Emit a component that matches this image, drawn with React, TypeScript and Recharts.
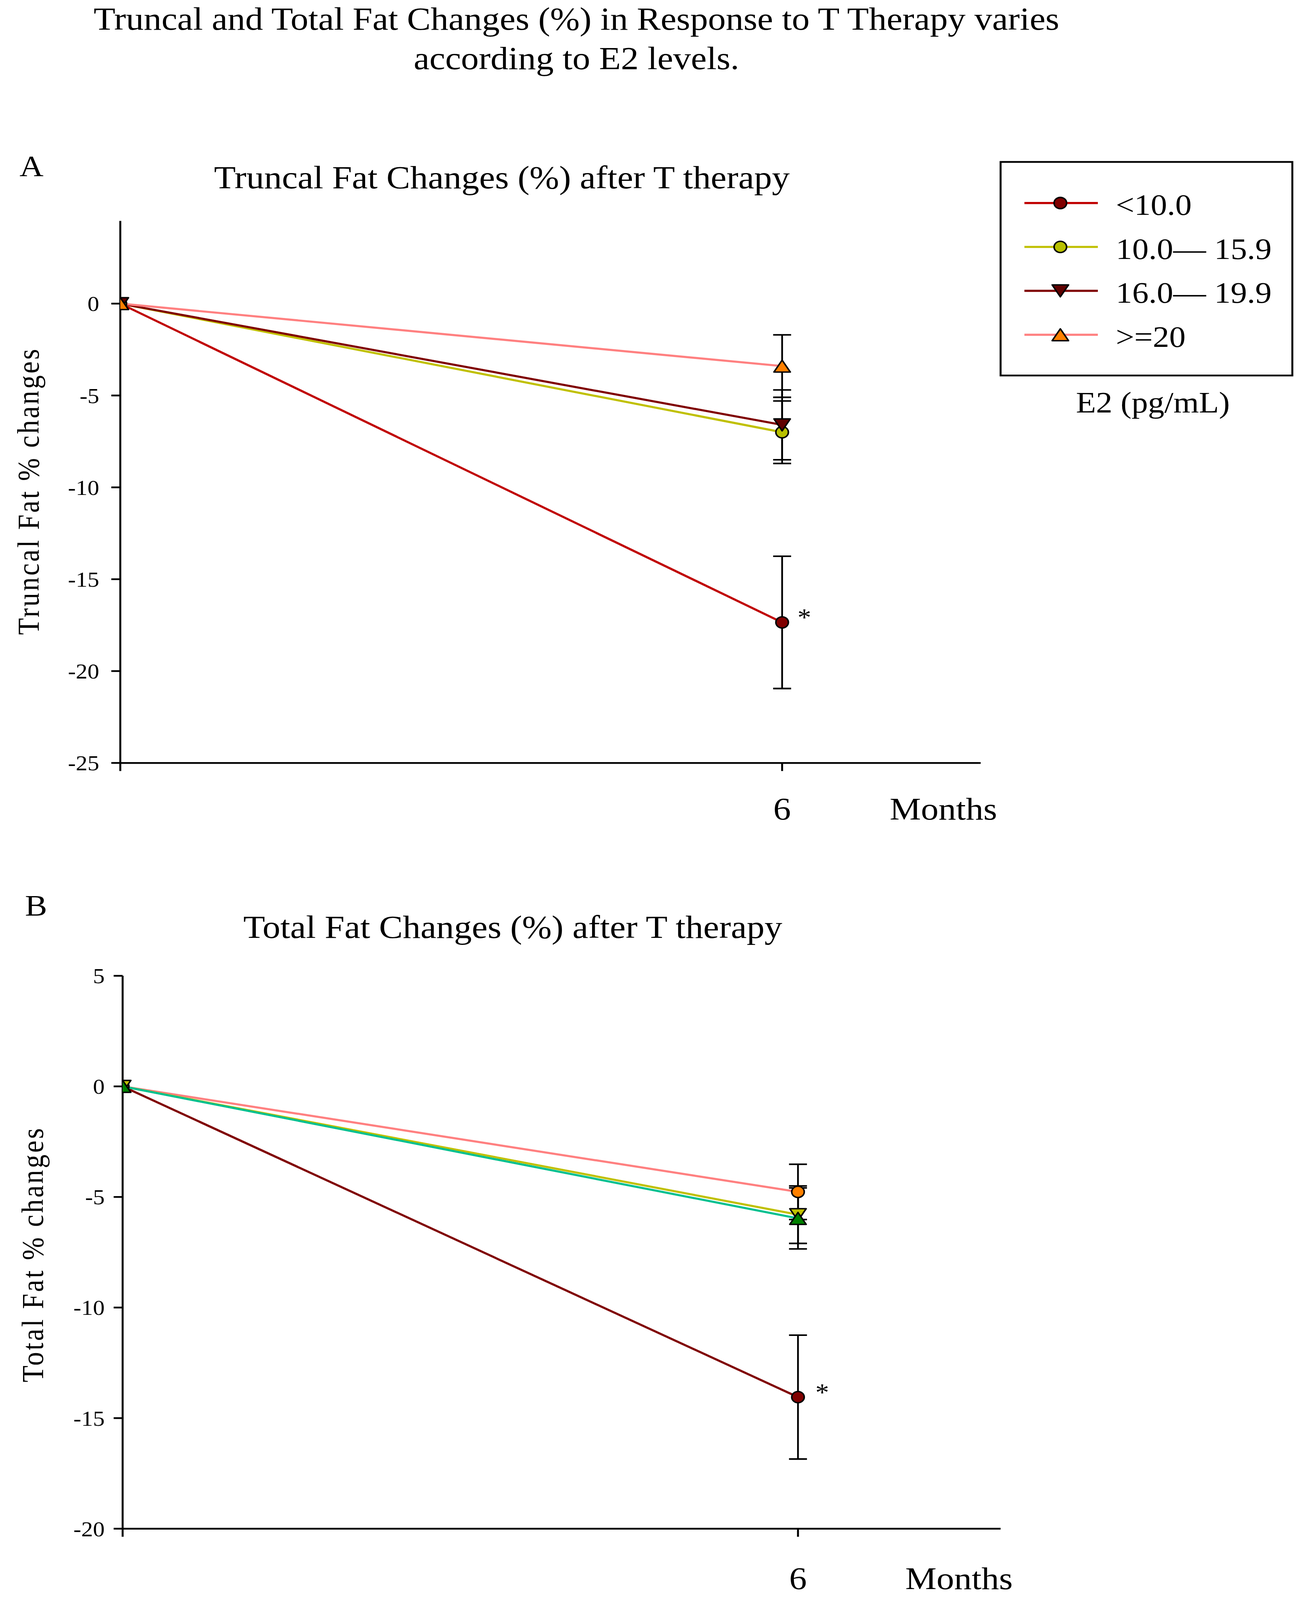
import React from "react";
import { LineChart, Line, XAxis, YAxis, ErrorBar } from "recharts";

const FONT = '"Liberation Serif", "Times New Roman", serif';

// the photographed page stops at 4096px, so the 4555px-tall figure is squeezed to fit
const FIT_Y = 4096 / 4555;

const months = [0, 6];
const groups = ["<10.0", "10.0\u2014 15.9", "16.0\u2014 19.9", ">=20"];
const xTicks = [0, 6];
const yTicksA = [-25, -20, -15, -10, -5, 0];
const yTicksB = [-20, -15, -10, -5, 0, 5];

// Panel A: truncal fat % change by E2 group
const truncalLt10 = [0, -17.35];
const truncal10to16 = [0, -7.0];
const truncal16to20 = [0, -6.6];
const truncalGe20 = [0, -3.4];
const truncalSe = [3.6, 1.7, 1.9, 1.7];

// Panel B: total fat % change by E2 group
const totalLt10 = [0, -14.05];
const total10to16 = [0, -5.8];
const total16to20 = [0, -5.97];
const totalGe20 = [0, -4.77];
const totalSe = [2.8, 1.3, 1.38, 1.25];

type Style = { line: string; fill: string; shape: "circle" | "up" | "down" };

const styleA: Style[] = [
  { line: "#C00000", fill: "#800000", shape: "circle" },
  { line: "#C0C000", fill: "#B8C000", shape: "circle" },
  { line: "#800000", fill: "#600000", shape: "down" },
  { line: "#FF8080", fill: "#FF8000", shape: "up" },
];
const styleB: Style[] = [
  { line: "#800000", fill: "#800000", shape: "circle" },
  { line: "#C0C000", fill: "#C0C000", shape: "down" },
  { line: "#00C090", fill: "#008000", shape: "up" },
  { line: "#FF8080", fill: "#FF8000", shape: "circle" },
];

function buildRows(series: number[][], se: number[]) {
  return months.map((m, i) => {
    const row: any = { month: m };
    series.forEach((vals, k) => {
      row[`v${k}`] = vals[i];
      row[`e${k}`] = m === 0 ? null : se[k];
    });
    return row;
  });
}

const rowsA = buildRows([truncalLt10, truncal10to16, truncal16to20, truncalGe20], truncalSe);
const rowsB = buildRows([totalLt10, total10to16, total16to20, totalGe20], totalSe);

function Marker({ cx, cy, s }: { cx: number; cy: number; s: Style }) {
  if (cx == null || cy == null) return null;
  if (s.shape === "circle") {
    return <circle cx={cx} cy={cy} r={16} fill={s.fill} stroke="#000" strokeWidth={4} />;
  }
  const h = 17;
  const w = 21;
  const pts =
    s.shape === "up"
      ? `${cx},${cy - h} ${cx + w},${cy + h} ${cx - w},${cy + h}`
      : `${cx},${cy + h} ${cx + w},${cy - h} ${cx - w},${cy - h}`;
  return <polygon points={pts} fill={s.fill} stroke="#000" strokeWidth={4} strokeLinejoin="round" />;
}

function star(dx: number) {
  return (p: any) => {
    if (p.index !== 1) return null;
    return (
      <text key="star" x={p.x + dx} y={p.y + 10} fontSize={70} fontFamily={FONT} textAnchor="middle" fill="#000">
        *
      </text>
    );
  };
}

type PanelProps = {
  rows: any[];
  styles: Style[];
  order: number[];
  width: number;
  height: number;
  margin: { top: number; left: number; right: number; bottom: number };
  domain: [number, number];
  yTicks: number[];
  yTickMargin: number;
  xTickMargin: number;
  starDx: number;
  children?: React.ReactNode;
};

function Panel(p: PanelProps) {
  const axisStroke = { stroke: "#000", strokeWidth: 5 };
  return (
    <LineChart width={p.width} height={p.height} data={p.rows} margin={p.margin}>
      <XAxis
        dataKey="month"
        type="number"
        domain={[0, 7.8]}
        ticks={xTicks}
        height={100}
        axisLine={axisStroke}
        tickLine={axisStroke}
        tickSize={23}
        tickMargin={p.xTickMargin}
        tickFormatter={(v: number) => (v === 0 ? "" : String(v))}
        tick={{ fontSize: 90, fill: "#000", fontFamily: FONT }}
        allowDataOverflow
      />
      <YAxis
        type="number"
        domain={p.domain}
        ticks={p.yTicks}
        width={100}
        axisLine={axisStroke}
        tickLine={axisStroke}
        tickSize={23}
        tickMargin={p.yTickMargin}
        tick={{ fontSize: 60, fill: "#000", fontFamily: FONT }}
        allowDataOverflow
      />
      {p.order.map((k) => {
        const s = p.styles[k];
        return (
          <Line
            key={k}
            dataKey={`v${k}`}
            name={groups[k]}
            stroke={s.line}
            strokeWidth={6}
            isAnimationActive={false}
            dot={(d: any) => <Marker key={`m${k}-${d.index}`} cx={d.cx} cy={d.cy} s={s} />}
            activeDot={false}
            label={k === 0 ? star(p.starDx) : false}
          >
            <ErrorBar dataKey={`e${k}`} width={23} stroke="#000" strokeWidth={4.5} direction="y" />
          </Line>
        );
      })}
      {p.children}
    </LineChart>
  );
}

function LegendBox() {
  const rowY = [578, 703, 828, 953];
  return (
    <g>
      <rect x={2562} y={461} width={747} height={608} fill="none" stroke="#000" strokeWidth={5} />
      {groups.map((g, i) => (
        <g key={g}>
          <line x1={2623} x2={2811} y1={rowY[i]} y2={rowY[i]} stroke={styleA[i].line} strokeWidth={6} />
          <Marker cx={2715} cy={rowY[i]} s={styleA[i]} />
          <text x={2857} y={rowY[i] + 34} fontSize={84} fontFamily={FONT} fill="#000">
            {g}
          </text>
        </g>
      ))}
      <text x={2952} y={1174} fontSize={84} fontFamily={FONT} fill="#000" textAnchor="middle">
        E2 (pg/mL)
      </text>
    </g>
  );
}

export default function App() {
  const topH = 2400;
  const botH = 4555 - topH;
  return (
    <div
      style={{
        position: "absolute",
        left: 0,
        top: 0,
        width: 3344,
        height: 4555,
        background: "#fff",
        transform: `scaleY(${FIT_Y})`,
        transformOrigin: "0 0",
      }}
    >
      <div style={{ position: "absolute", left: 0, top: 0 }}>
        <Panel
          rows={rowsA}
          styles={styleA}
          order={[0, 1, 2, 3]}
          width={3344}
          height={topH}
          margin={{ top: 629, left: 208, right: 833, bottom: topH - 2172 - 100 }}
          domain={[-25, 4.5]}
          yTicks={yTicksA}
          yTickMargin={31}
          xTickMargin={74}
          starDx={57}
        >
          <text x={1476} y={85} fontSize={91} fontFamily={FONT} textAnchor="middle" fill="#000">
            Truncal and Total Fat Changes (%) in Response to T Therapy varies
          </text>
          <text x={1476} y={197} fontSize={91} fontFamily={FONT} textAnchor="middle" fill="#000">
            according to E2 levels.
          </text>
          <text x={50} y={502} fontSize={85} fontFamily={FONT} fill="#000">
            A
          </text>
          <text x={1285} y={536} fontSize={91} fontFamily={FONT} textAnchor="middle" fill="#000">
            Truncal Fat Changes (%) after T therapy
          </text>
          <text
            x={99}
            y={1398}
            fontSize={78}
            letterSpacing={5}
            fontFamily={FONT}
            textAnchor="middle"
            fill="#000"
            transform="rotate(-90 99 1398)"
          >
            Truncal Fat % changes
          </text>
          <text x={2278} y={2333} fontSize={90} fontFamily={FONT} fill="#000">
            Months
          </text>
          <LegendBox />
        </Panel>
      </div>
      <div style={{ position: "absolute", left: 0, top: topH }}>
        <Panel
          rows={rowsB}
          styles={styleB}
          order={[0, 3, 1, 2]}
          width={3344}
          height={botH}
          margin={{ top: 2778 - topH, left: 214, right: 782, bottom: botH - (4352 - topH) - 100 }}
          domain={[-20, 5]}
          yTicks={yTicksB}
          yTickMargin={23}
          xTickMargin={85}
          starDx={62}
        >
          <text x={64} y={2607 - topH} fontSize={85} fontFamily={FONT} fill="#000">
            B
          </text>
          <text x={1313} y={2670 - topH} fontSize={91} fontFamily={FONT} textAnchor="middle" fill="#000">
            Total Fat Changes (%) after T therapy
          </text>
          <text
            x={110}
            y={3571 - topH}
            fontSize={78}
            letterSpacing={5}
            fontFamily={FONT}
            textAnchor="middle"
            fill="#000"
            transform={`rotate(-90 110 ${3571 - topH})`}
          >
            Total Fat % changes
          </text>
          <text x={2318} y={4524 - topH} fontSize={90} fontFamily={FONT} fill="#000">
            Months
          </text>
        </Panel>
      </div>
    </div>
  );
}
